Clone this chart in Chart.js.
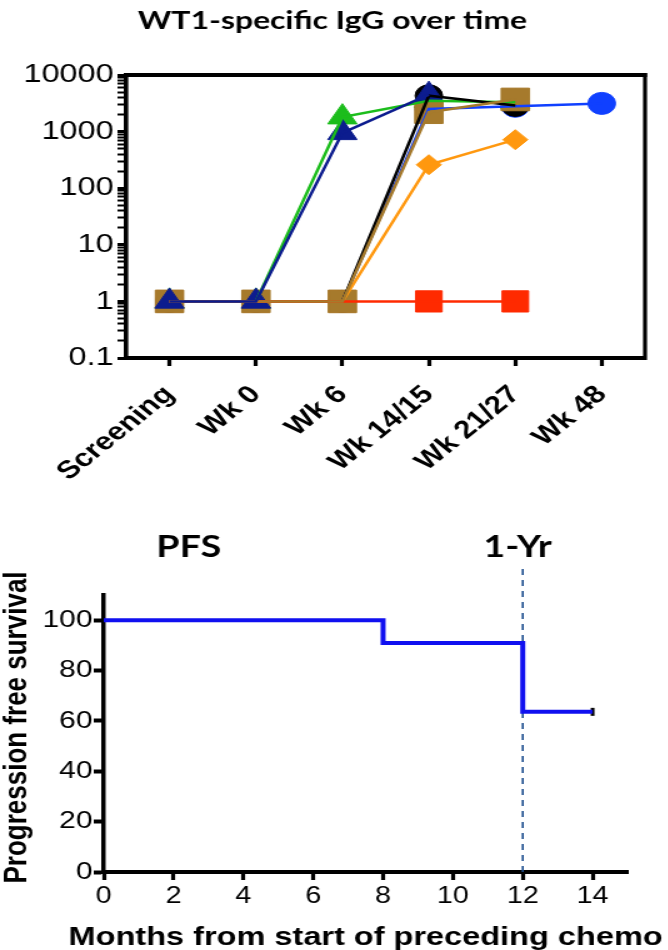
<!DOCTYPE html>
<html>
<head>
<meta charset="utf-8">
<script src="https://cdn.jsdelivr.net/npm/chart.js@4.4.0/dist/chart.umd.min.js"></script>
<style>
  html, body { margin: 0; padding: 0; background: #fff; overflow: hidden; }
  /* the reference figure is drawn wide, so both canvases are stretched sideways */
  canvas { position: absolute; left: 0; transform-origin: 0 0; transform: scaleX(1.25); }
  #iggChart { top: 0; }
  #pfsChart { top: 490px; }
</style>
</head>
<body>
<canvas id="iggChart" width="534" height="490"></canvas>
<canvas id="pfsChart" width="534" height="460"></canvas>
<script>
// ===== Data: WT1-specific IgG titres per patient =====
const timepoints = ['Screening', 'Wk 0', 'Wk 6', 'Wk 14/15', 'Wk 21/27', 'Wk 48'];
const navyIgG   = [1, 1, 950, 4500, null, null];
const brownIgG  = [1, 1, 1, 2200, 3700, null];
const redIgG    = [1, 1, 1, 1, 1, null];
const orangeIgG = [1, 1, 1, 260, 720, null];
const blackIgG  = [1, 1, 1, 4300, 2900, null];
const blueIgG   = [1, 1, 1, 2500, 2800, 3150];
const greenIgG  = [1, 1, 1800, 3500, 3300, null];
const iggTicks  = [0.1, 1, 10, 100, 1000, 10000];

// ===== Data: progression free survival =====
const pfsMonths     = [0, 8, 12, 14];
const pfsPercent    = [100, 90.9, 63.6, 63.6];
const censorMonths  = [14];
const censorPercent = [63.6];
const monthTicks    = [0, 2, 4, 6, 8, 10, 12, 14];
const pfsTicks      = [0, 20, 40, 60, 80, 100];
const yearMark      = 12;

Chart.defaults.font.family = '"Liberation Sans", Arial, sans-serif';
Chart.defaults.color = '#000';
Chart.defaults.animation = false;

// ===== Top: IgG over time =====
const series = [
  { data: navyIgG,   color: '#0c1c8e', style: 'triangle', r: 13.5 },
  { data: brownIgG,  color: '#a67a2c', style: 'rect',     r: 16 },
  { data: redIgG,    color: '#ff2a00', style: 'rect',     r: 15 },
  { data: orangeIgG, color: '#ff980f', style: 'rectRot',  r: 10 },
  { data: blackIgG,  color: '#000000', style: 'circle',   r: 11 },
  { data: blueIgG,   color: '#1040ff', style: 'circle',   r: 11 },
  { data: greenIgG,  color: '#1cbd1c', style: 'triangle', r: 13.5 }
];

// lines sit above every symbol (as in the original), symbols stacked by series order
const iggDatasets = [];
series.forEach((s, i) => {
  iggDatasets.push({ data: s.data, borderColor: s.color, borderWidth: 2.5, pointRadius: 0, order: i });
  iggDatasets.push({ data: s.data, showLine: false, pointStyle: s.style, pointRadius: s.r,
    backgroundColor: s.color, pointBorderColor: s.color, pointBorderWidth: 1, order: 10 + i });
});

function logTickList() {
  const out = [];
  iggTicks.forEach((v, i) => {
    out.push({ value: v, major: true });
    if (i < iggTicks.length - 1) {
      for (let k = 2; k <= 9; k++) out.push({ value: +(v * k).toPrecision(3), major: false });
    }
  });
  return out;
}

const framePlugin = {
  id: 'frame',
  afterDatasetsDraw(chart) {
    const { ctx, chartArea: a } = chart;
    ctx.save();
    ctx.strokeStyle = '#000';
    ctx.lineWidth = 4;
    ctx.beginPath(); ctx.moveTo(a.left, a.top); ctx.lineTo(a.right + 1.6, a.top); ctx.stroke();
    ctx.lineWidth = 3.2;
    ctx.beginPath(); ctx.moveTo(a.right, a.top - 2); ctx.lineTo(a.right, a.bottom + 2); ctx.stroke();
    ctx.restore();
  }
};

new Chart(document.getElementById('iggChart'), {
  type: 'line',
  data: { labels: timepoints, datasets: iggDatasets },
  options: {
    responsive: false,
    layout: { autoPadding: false, padding: { left: 16, right: 18, top: 0, bottom: 0 } },
    plugins: {
      legend: { display: false },
      tooltip: { enabled: false },
      title: {
        display: true,
        text: 'WT1-specific IgG over time',
        color: '#000',
        font: { family: 'Lato, "Open Sans", sans-serif', size: 25.5, weight: 'bold', lineHeight: 1.2 },
        padding: { top: 5, bottom: 39.4 }
      }
    },
    scales: {
      x: {
        type: 'category',
        offset: true,
        grid: { drawOnChartArea: false, tickLength: 8, tickWidth: 3.2, tickColor: '#000' },
        border: { width: 4, color: '#000' },
        ticks: { font: { size: 25, weight: 'bold' }, minRotation: 45, maxRotation: 45, padding: 14, autoSkip: false },
        afterFit: a => { a.height = 132; }
      },
      y: {
        type: 'logarithmic',
        min: 0.1,
        max: 10000,
        afterBuildTicks: a => { a.ticks = logTickList(); },
        grid: {
          drawOnChartArea: false, tickLength: 7, tickColor: '#000',
          tickWidth: c => (c.tick && c.tick.major) ? 3 : 2
        },
        border: { width: 3.6, color: '#000' },
        ticks: {
          font: { size: 26 }, padding: 3, autoSkip: false,
          callback: (v, i, ticks) => ticks[i].major ? String(v) : ''
        },
        afterFit: a => { a.width = 85; }
      }
    }
  },
  plugins: [framePlugin]
});

// ===== Bottom: PFS Kaplan-Meier =====
const pfsText = {
  id: 'pfsText',
  beforeDatasetsDraw(chart) {
    const { ctx, chartArea: a, scales: { x } } = chart;
    const px = x.getPixelForValue(yearMark);
    ctx.save();
    ctx.strokeStyle = '#1f4f8f';
    ctx.lineWidth = 1.6;
    ctx.setLineDash([6, 5]);
    ctx.beginPath(); ctx.moveTo(px, a.bottom); ctx.lineTo(px, a.top - 27); ctx.stroke();
    ctx.restore();
  },
  afterDraw(chart) {
    const { ctx, chartArea: a, scales: { x } } = chart;
    ctx.save();
    ctx.fillStyle = '#000';
    ctx.textAlign = 'center';
    ctx.textBaseline = 'middle';
    ctx.font = 'bold 30px Lato, "Open Sans", sans-serif';
    ctx.fillText('PFS', 151, 57);
    ctx.fillText('1-Yr', x.getPixelForValue(yearMark) - 4, 57);

    // axis titles run wider than the plot, so they are set here rather than squeezed by the scale
    ctx.textBaseline = 'alphabetic';
    ctx.font = 'bold 26px "Liberation Sans", Arial, sans-serif';
    ctx.fillText('Months from start of preceding chemo', (a.left + a.right) / 2, 455);
    ctx.translate(21, (a.top + a.bottom) / 2 - 6);
    ctx.rotate(-Math.PI / 2);
    ctx.fillText('Progression free survival', 0, 0);
    ctx.restore();
  }
};

new Chart(document.getElementById('pfsChart'), {
  type: 'line',
  data: {
    datasets: [
      {
        data: pfsMonths.map((m, i) => ({ x: m, y: pfsPercent[i] })),
        stepped: true, borderColor: '#1010f0', borderWidth: 4, pointRadius: 0
      },
      {
        data: censorMonths.map((m, i) => ({ x: m, y: censorPercent[i] })),
        showLine: false, pointStyle: 'line', rotation: 90, pointRadius: 4,
        pointBorderColor: '#000', pointBorderWidth: 3
      }
    ]
  },
  options: {
    responsive: false,
    layout: { autoPadding: false, padding: { left: 0, right: 32, top: 105, bottom: 0 } },
    plugins: { legend: { display: false }, tooltip: { enabled: false } },
    scales: {
      x: {
        type: 'linear', min: 0, max: 15,
        afterBuildTicks: a => { a.ticks = monthTicks.map(v => ({ value: v })); },
        grid: { drawOnChartArea: false, tickLength: 8, tickWidth: 3.2, tickColor: '#000' },
        border: { width: 4, color: '#000' },
        ticks: { font: { size: 23 }, padding: 3, autoSkip: false, maxRotation: 0 },
        afterFit: a => { a.height = 78; }
      },
      y: {
        min: 0, max: 110,
        afterBuildTicks: a => { a.ticks = pfsTicks.map(v => ({ value: v })); },
        grid: { drawOnChartArea: false, tickLength: 8, tickWidth: 4, tickColor: '#000' },
        border: { width: 3.5, color: '#000' },
        ticks: { font: { size: 24 }, padding: 1, autoSkip: false },
        afterFit: a => { a.width = 83; }
      }
    }
  },
  plugins: [pfsText]
});
</script>
</body>
</html>
